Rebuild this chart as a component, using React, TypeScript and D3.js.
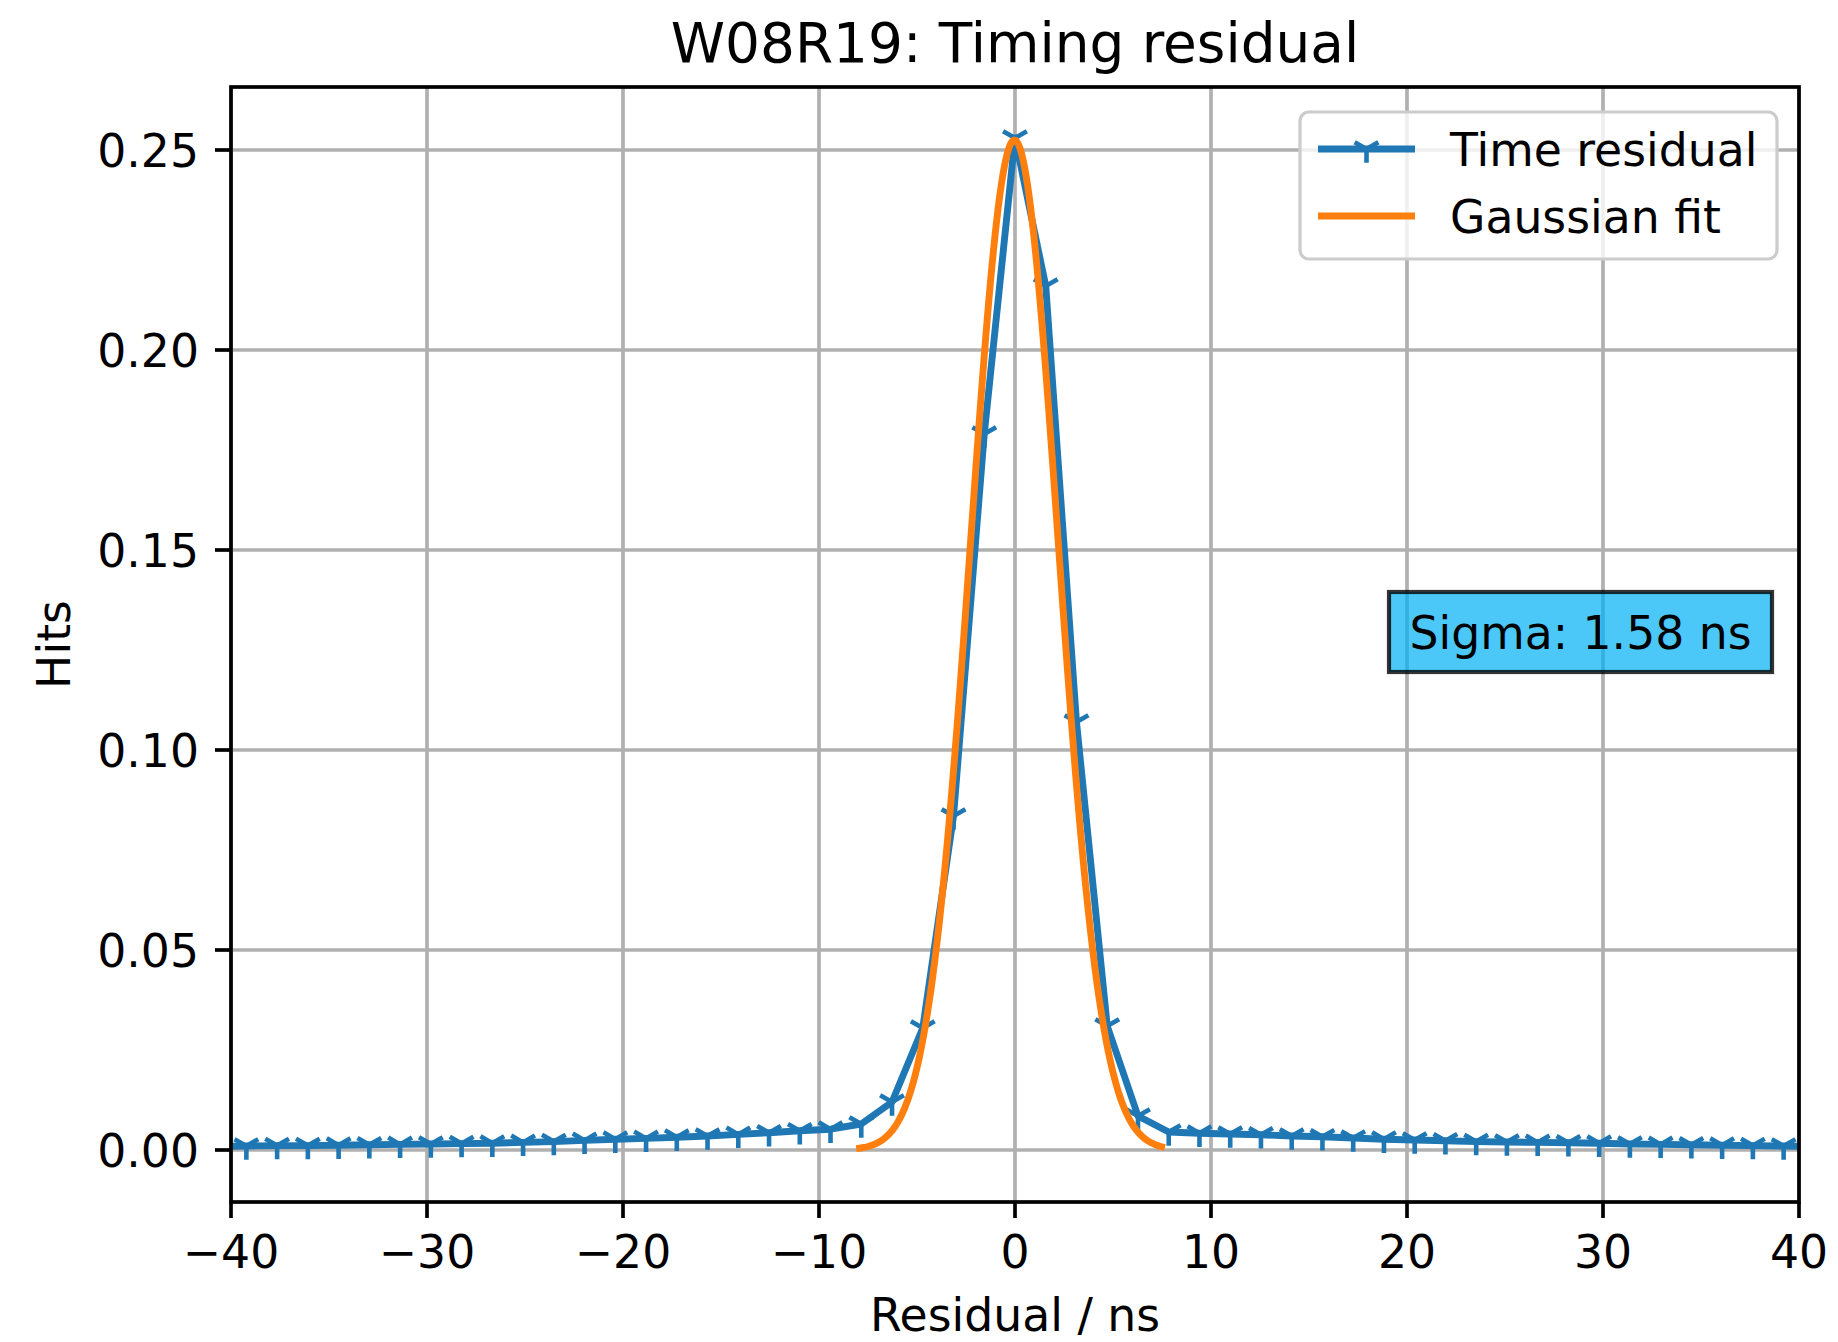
import React, { useRef, useEffect } from "react";
import * as d3 from "d3";

// chart text
const titleText = "W08R19: Timing residual";
const xLabelText = "Residual / ns";
const yLabelText = "Hits";
const legendNames = ["Time residual", "Gaussian fit"];
const sigmaText = "Sigma: 1.58 ns";

// axis ticks
const xTicks = [-40, -30, -20, -10, 0, 10, 20, 30, 40];
const yTicks = [0, 0.05, 0.1, 0.15, 0.2, 0.25];

// histogram: 51 bins over [-40, 40], plus one bin outside on each side (clipped)
const histRange = [-40, 40];
const histBins = 51;
const hits = [
  0.0009,
  0.0010, 0.0011, 0.0011, 0.0012, 0.0013, 0.0014, 0.0015, 0.0016, 0.0017, 0.0019,
  0.0021, 0.0024, 0.0027, 0.0029, 0.0032, 0.0035, 0.0039, 0.0043, 0.0048, 0.0052,
  0.0065, 0.0120, 0.0305, 0.0835, 0.1790, 0.2530, 0.2160, 0.1070, 0.0310, 0.0085,
  0.0045, 0.0042, 0.0040, 0.0038, 0.0035, 0.0033, 0.0030, 0.0027, 0.0025, 0.0023,
  0.0021, 0.0020, 0.0019, 0.0018, 0.0017, 0.0015, 0.0014, 0.0013, 0.0012, 0.0011,
  0.0010,
  0.0009,
];

// gaussian fit parameters
const fitAmplitude = 0.2525;
const fitMean = -0.03;
const fitSigma = 2.22;
const fitRange = [-8.1, 7.65];

const App = () => {
  const svgRef = useRef(null);

  useEffect(() => {
    const width = 1838;
    const height = 1342;
    const plot = { left: 231, right: 1799, top: 87, bottom: 1202 };
    const font = "DejaVu Sans, sans-serif";
    const blue = "#1f77b4";
    const orange = "#ff7f0e";
    const lw = 6.9;

    const svg = d3.select(svgRef.current)
      .attr("width", width)
      .attr("height", height);
    svg.selectAll("*").remove();

    const x = d3.scaleLinear().domain([-40, 40]).range([plot.left, plot.right]);
    const y = d3.scaleLinear().domain([-0.013, 0.26575]).range([plot.bottom, plot.top]);

    svg.append("rect").attr("width", width).attr("height", height).attr("fill", "#fff");

    svg.append("clipPath").attr("id", "plotclip")
      .append("rect")
      .attr("x", plot.left).attr("y", plot.top)
      .attr("width", plot.right - plot.left).attr("height", plot.bottom - plot.top);

    // grid
    const grid = svg.append("g").attr("stroke", "#b0b0b0").attr("stroke-width", 3.7);
    xTicks.forEach(t => grid.append("line")
      .attr("x1", x(t)).attr("x2", x(t)).attr("y1", plot.top).attr("y2", plot.bottom));
    yTicks.forEach(t => grid.append("line")
      .attr("x1", plot.left).attr("x2", plot.right).attr("y1", y(t)).attr("y2", y(t)));

    // histogram points
    const binWidth = (histRange[1] - histRange[0]) / histBins;
    const firstCenter = histRange[0] - binWidth / 2;
    const points = hits.map((v, i) => [firstCenter + i * binWidth, v]);

    const data = svg.append("g").attr("clip-path", "url(#plotclip)");
    const line = d3.line().x(d => x(d[0])).y(d => y(d[1]));

    data.append("path")
      .attr("d", line(points))
      .attr("fill", "none")
      .attr("stroke", blue)
      .attr("stroke-width", lw)
      .attr("stroke-linejoin", "round");

    const r = 13.7;
    const tri = `M0,0L0,${r}M0,0L${-0.866 * r},${-0.5 * r}M0,0L${0.866 * r},${-0.5 * r}`;
    data.selectAll(".mk")
      .data(points)
      .enter()
      .append("path")
      .attr("class", "mk")
      .attr("d", tri)
      .attr("transform", d => `translate(${x(d[0])},${y(d[1])})`)
      .attr("fill", "none")
      .attr("stroke", blue)
      .attr("stroke-width", 4.6);

    // gaussian fit curve
    const fitXs = d3.range(0, 201).map(i => fitRange[0] + (fitRange[1] - fitRange[0]) * i / 200);
    const fitPts = fitXs.map(v => [v, fitAmplitude * Math.exp(-((v - fitMean) ** 2) / (2 * fitSigma * fitSigma))]);
    data.append("path")
      .attr("d", line(fitPts))
      .attr("fill", "none")
      .attr("stroke", orange)
      .attr("stroke-width", lw)
      .attr("stroke-linejoin", "round");

    // spines
    svg.append("rect")
      .attr("x", plot.left).attr("y", plot.top)
      .attr("width", plot.right - plot.left).attr("height", plot.bottom - plot.top)
      .attr("fill", "none").attr("stroke", "#000").attr("stroke-width", 3.7);

    // ticks
    const fs = 45.7;
    const ticks = svg.append("g").attr("stroke", "#000").attr("stroke-width", 3.7);
    xTicks.forEach(t => ticks.append("line")
      .attr("x1", x(t)).attr("x2", x(t)).attr("y1", plot.bottom).attr("y2", plot.bottom + 16));
    yTicks.forEach(t => ticks.append("line")
      .attr("x1", plot.left - 16).attr("x2", plot.left).attr("y1", y(t)).attr("y2", y(t)));

    const xFmt = d3.format("d");
    svg.append("g").selectAll("text")
      .data(xTicks).enter().append("text")
      .attr("x", d => x(d)).attr("y", 1268)
      .attr("text-anchor", "middle")
      .attr("font-family", font).attr("font-size", fs)
      .text(d => xFmt(d));

    const yFmt = d3.format(".2f");
    svg.append("g").selectAll("text")
      .data(yTicks).enter().append("text")
      .attr("x", 199).attr("y", d => y(d) + 16.7)
      .attr("text-anchor", "end")
      .attr("font-family", font).attr("font-size", fs)
      .text(d => yFmt(d));

    // labels
    svg.append("text")
      .attr("x", (plot.left + plot.right) / 2).attr("y", 62)
      .attr("text-anchor", "middle")
      .attr("font-family", font).attr("font-size", 54.9)
      .text(titleText);

    svg.append("text")
      .attr("x", (plot.left + plot.right) / 2).attr("y", 1331)
      .attr("text-anchor", "middle")
      .attr("font-family", font).attr("font-size", fs)
      .text(xLabelText);

    svg.append("text")
      .attr("transform", `translate(70,${(plot.top + plot.bottom) / 2}) rotate(-90)`)
      .attr("text-anchor", "middle")
      .attr("font-family", font).attr("font-size", fs)
      .text(yLabelText);

    // sigma box
    const sb = { x: 1389, y: 592, w: 383, h: 80 };
    svg.append("rect")
      .attr("x", sb.x).attr("y", sb.y).attr("width", sb.w).attr("height", sb.h)
      .attr("fill", "rgb(0,176,245)").attr("fill-opacity", 0.7)
      .attr("stroke", "#000").attr("stroke-opacity", 0.8).attr("stroke-width", 4.2);
    svg.append("text")
      .attr("x", sb.x + sb.w / 2).attr("y", sb.y + sb.h / 2 + 16.7)
      .attr("text-anchor", "middle")
      .attr("font-family", font).attr("font-size", fs)
      .text(sigmaText);

    // legend
    const lg = svg.append("g");
    lg.append("rect")
      .attr("x", 1300).attr("y", 112).attr("width", 477).attr("height", 147)
      .attr("rx", 9)
      .attr("fill", "#fff").attr("fill-opacity", 0.8)
      .attr("stroke", "#cccccc").attr("stroke-width", 3.2);
    const rows = [149, 216];
    const colors = [blue, orange];
    rows.forEach((ry, i) => {
      lg.append("line")
        .attr("x1", 1318).attr("x2", 1415).attr("y1", ry).attr("y2", ry)
        .attr("stroke", colors[i]).attr("stroke-width", lw);
      if (i === 0) {
        lg.append("path")
          .attr("d", tri)
          .attr("transform", `translate(${(1318 + 1415) / 2},${ry})`)
          .attr("fill", "none").attr("stroke", blue).attr("stroke-width", 4.6);
      }
      lg.append("text")
        .attr("x", 1450).attr("y", ry + 16.7)
        .attr("font-family", font).attr("font-size", fs)
        .text(legendNames[i]);
    });
  }, []);

  return (
    <svg
      ref={svgRef}
      style={{ position: "absolute", left: 0, top: 0, display: "block" }}
    />
  );
};

export default App;
